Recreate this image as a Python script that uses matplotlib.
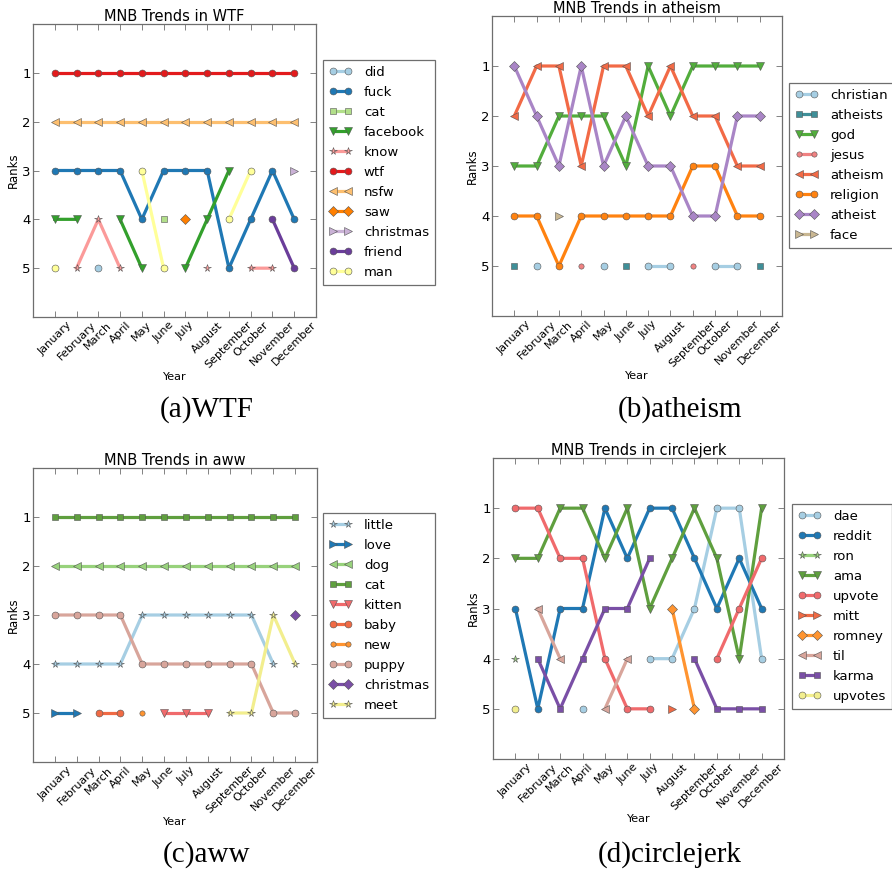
import numpy as np
import matplotlib
matplotlib.use('Agg')
import matplotlib.pyplot as plt

nan = np.nan
months = ['January', 'February', 'March', 'April', 'May', 'June', 'July',
          'August', 'September', 'October', 'November', 'December']
rank_ticks = [1, 2, 3, 4, 5]

# ---------------- data ----------------
wtf_terms = ['did', 'fuck', 'cat', 'facebook', 'know', 'wtf', 'nsfw', 'saw',
             'christmas', 'friend', 'man']
wtf_did = [nan, nan, 5, nan, nan, nan, nan, nan, nan, nan, nan, nan]
wtf_fuck = [3, 3, 3, 3, 4, 3, 3, 3, 5, 4, 3, 4]
wtf_cat = [nan, nan, nan, nan, nan, 4, nan, nan, nan, nan, nan, nan]
wtf_facebook = [4, 4, nan, 4, 5, nan, 5, 4, 3, nan, nan, nan]
wtf_know = [nan, 5, 4, 5, nan, nan, nan, 5, nan, 5, 5, nan]
wtf_wtf = [1, 1, 1, 1, 1, 1, 1, 1, 1, 1, 1, 1]
wtf_nsfw = [2, 2, 2, 2, 2, 2, 2, 2, 2, 2, 2, 2]
wtf_saw = [nan, nan, nan, nan, nan, nan, 4, nan, nan, nan, nan, nan]
wtf_christmas = [nan, nan, nan, nan, nan, nan, nan, nan, nan, nan, nan, 3]
wtf_friend = [nan, nan, nan, nan, nan, nan, nan, nan, nan, nan, 4, 5]
wtf_man = [5, nan, nan, nan, 3, 5, nan, nan, 4, 3, nan, nan]
wtf_series = [wtf_did, wtf_fuck, wtf_cat, wtf_facebook, wtf_know, wtf_wtf,
              wtf_nsfw, wtf_saw, wtf_christmas, wtf_friend, wtf_man]

ath_terms = ['christian', 'atheists', 'god', 'jesus', 'atheism', 'religion',
             'atheist', 'face']
ath_christian = [nan, 5, nan, nan, 5, nan, 5, 5, nan, 5, 5, nan]
ath_atheists = [5, nan, nan, nan, nan, 5, nan, nan, nan, nan, nan, 5]
ath_god = [3, 3, 2, 2, 2, 3, 1, 2, 1, 1, 1, 1]
ath_jesus = [nan, nan, nan, 5, nan, nan, nan, nan, 5, nan, nan, nan]
ath_atheism = [2, 1, 1, 3, 1, 1, 2, 1, 2, 2, 3, 3]
ath_religion = [4, 4, 5, 4, 4, 4, 4, 4, 3, 3, 4, 4]
ath_atheist = [1, 2, 3, 1, 3, 2, 3, 3, 4, 4, 2, 2]
ath_face = [nan, nan, 4, nan, nan, nan, nan, nan, nan, nan, nan, nan]
ath_series = [ath_christian, ath_atheists, ath_god, ath_jesus, ath_atheism,
              ath_religion, ath_atheist, ath_face]

aww_terms = ['little', 'love', 'dog', 'cat', 'kitten', 'baby', 'new', 'puppy',
             'christmas', 'meet']
aww_little = [4, 4, 4, 4, 3, 3, 3, 3, 3, 3, 4, nan]
aww_love = [5, 5, nan, nan, nan, nan, nan, nan, nan, nan, nan, nan]
aww_dog = [2, 2, 2, 2, 2, 2, 2, 2, 2, 2, 2, 2]
aww_cat = [1, 1, 1, 1, 1, 1, 1, 1, 1, 1, 1, 1]
aww_kitten = [nan, nan, nan, nan, nan, 5, 5, 5, nan, nan, nan, nan]
aww_baby = [nan, nan, 5, 5, nan, nan, nan, nan, nan, nan, nan, nan]
aww_new = [nan, nan, nan, nan, 5, nan, nan, nan, nan, nan, nan, nan]
aww_puppy = [3, 3, 3, 3, 4, 4, 4, 4, 4, 4, 5, 5]
aww_christmas = [nan, nan, nan, nan, nan, nan, nan, nan, nan, nan, nan, 3]
aww_meet = [nan, nan, nan, nan, nan, nan, nan, nan, 5, 5, 3, 4]
aww_series = [aww_little, aww_love, aww_dog, aww_cat, aww_kitten, aww_baby,
              aww_new, aww_puppy, aww_christmas, aww_meet]

cj_terms = ['dae', 'reddit', 'ron', 'ama', 'upvote', 'mitt', 'romney', 'til',
            'karma', 'upvotes']
cj_dae = [nan, nan, nan, 5, nan, nan, 4, 4, 3, 1, 1, 4]
cj_reddit = [3, 5, 3, 3, 1, 2, 1, 1, 2, 3, 2, 3]
cj_ron = [4, nan, nan, nan, nan, nan, nan, nan, nan, nan, nan, nan]
cj_ama = [2, 2, 1, 1, 2, 1, 3, 2, 1, 2, 4, 1]
cj_upvote = [1, 1, 2, 2, 4, 5, 5, nan, nan, 4, 3, 2]
cj_mitt = [nan, nan, nan, nan, nan, nan, nan, 5, nan, nan, nan, nan]
cj_romney = [nan, nan, nan, nan, nan, nan, nan, 3, 5, nan, nan, nan]
cj_til = [nan, 3, 4, nan, 5, 4, nan, nan, nan, nan, nan, nan]
cj_karma = [nan, 4, 5, 4, 3, 3, 2, nan, 4, 5, 5, 5]
cj_upvotes = [5, nan, nan, nan, nan, nan, nan, nan, nan, nan, nan, nan]
cj_series = [cj_dae, cj_reddit, cj_ron, cj_ama, cj_upvote, cj_mitt, cj_romney,
             cj_til, cj_karma, cj_upvotes]

# ---------------- styles ----------------
wtf_colors = ['#a6cee3', '#1f78b4', '#b2df8a', '#33a02c', '#fb9a99', '#e31a1c',
              '#fdbf6f', '#ff7f00', '#cab2d6', '#6a3d9a', '#ffff99']
wtf_markers = ['o', 'o', 's', 'v', '*', 'o', '<', 'D', '>', 'o', 'o']
ath_colors = ['#a6cee3', '#3f8f98', '#52ad3c', '#f08282', '#f26a46', '#ff8210',
              '#a985c6', '#c9b792']
ath_markers = ['o', 's', 'v', 'o', '<', 'o', 'D', '>']
cd_colors = ['#a6cee3', '#1f78b4', '#98d27c', '#5f9f3e', '#f06a6c', '#f06a44',
             '#ff9430', '#d8a59b', '#7a4fa6', '#f2ee8e']
aww_markers = ['*', '>', '<', 's', 'v', 'o', 'o', 'o', 'D', '*']
cj_markers = ['o', 'o', '*', 'v', 'o', '>', 'D', '<', 's', 'o']

W, H = 892, 882
fig = plt.figure(figsize=(W / 100, H / 100), dpi=100)
SPINE = '#6e6e6e'


def px_axes(l, t, r, b):
    return fig.add_axes([l / W, 1 - b / H, (r - l) / W, (b - t) / H])


def msize(m):
    return {'*': 5.5, 'D': 5.2, 's': 5, 'v': 5.5, '<': 5.5, '>': 5.5}.get(m, 5)


def panel(rect, title, terms, series, colors, markers, leg_xy, caption, cap_xy,
          small=()):
    ax = px_axes(*rect)
    x = np.arange(len(months))
    for term, ys, c, m in zip(terms, series, colors, markers):
        ms = msize(m)
        if term in small:
            ms = 3.8
        ax.plot(x, ys, color=c, marker=m, lw=2.3, ms=ms, mfc=c,
                mec='#555555', mew=0.4, label=term)
    ax.set_xlim(-1, 12)
    ax.set_ylim(6, 0)
    ax.set_xticks(x)
    ax.set_xticklabels(months, rotation=45, fontsize=8)
    ax.set_yticks(rank_ticks)
    ax.set_yticklabels([str(r) for r in rank_ticks], fontsize=9.5)
    ax.tick_params(direction='in', top=True, right=True, length=4,
                   width=0.6, color=SPINE)
    ax.tick_params(axis='y', pad=1.5)
    ax.tick_params(axis='x', pad=2)
    for s in ax.spines.values():
        s.set_color(SPINE)
        s.set_linewidth(0.9)
    ax.set_xlabel('Year', fontsize=8, labelpad=1)
    ax.set_ylabel('Ranks', fontsize=8.5, labelpad=1.5)
    ax.set_title(title, fontsize=10.5, pad=2)
    leg = ax.legend(loc='upper left',
                    bbox_to_anchor=(leg_xy[0] / W, 1 - leg_xy[1] / H),
                    bbox_transform=fig.transFigure, borderaxespad=0,
                    fontsize=9.5, numpoints=2, fancybox=False, framealpha=1,
                    edgecolor=SPINE, handlelength=1.75, handletextpad=0.9,
                    labelspacing=0.53, borderpad=0.45)
    leg.get_frame().set_linewidth(0.9)
    fig.text(cap_xy[0] / W, 1 - cap_xy[1] / H, caption, ha='center',
             va='center', fontsize=21, family='Liberation Serif')
    return ax


panel((33, 24, 316, 317), 'MNB Trends in WTF', wtf_terms, wtf_series,
      wtf_colors, wtf_markers, (323, 60), '(a)WTF', (207, 410))
panel((492, 16, 782, 316), 'MNB Trends in atheism', ath_terms, ath_series,
      ath_colors, ath_markers, (789, 83), '(b)atheism', (680, 410),
      small=('jesus',))
panel((33, 468, 317, 762), 'MNB Trends in aww', aww_terms, aww_series,
      cd_colors, aww_markers, (323, 513), '(c)aww', (207, 855),
      small=('new',))
panel((493, 458, 784, 759), 'MNB Trends in circlejerk', cj_terms, cj_series,
      cd_colors, cj_markers, (792, 504), '(d)circlejerk', (670, 855))

fig.savefig('out.png', dpi=100, facecolor='white')
